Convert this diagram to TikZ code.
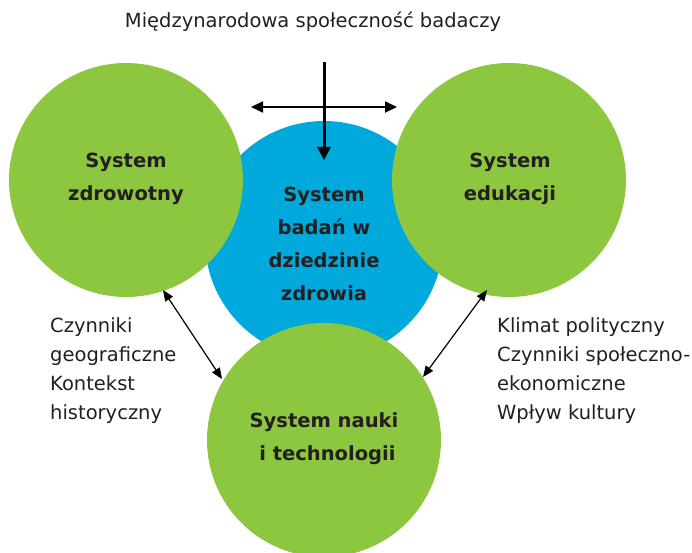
\documentclass[tikz,border=0pt]{standalone}
\usepackage{fontspec}
\setmainfont{DejaVu Sans}
\usetikzlibrary{arrows.meta}
\definecolor{cgreen}{RGB}{141,198,63}
\definecolor{cblue}{RGB}{0,169,219}
\definecolor{ctext}{RGB}{35,31,32}
\begin{document}
\begin{tikzpicture}[x=1pt,y=-1pt,
  circ/.style={circle,inner sep=0pt,minimum size=234pt},
  gcirc/.style={circ,fill=cgreen},
  bcirc/.style={circ,fill=cblue,minimum size=238pt},
  lbl/.style={font=\fontsize{19.5}{33}\selectfont\bfseries,text=ctext,align=center},
  side/.style={font=\fontsize{19.5}{29}\selectfont,text=ctext,anchor=base west,inner sep=0pt},
  dbl/.style={{Triangle[width=9pt,length=11pt]}-{Triangle[width=9pt,length=11pt]},line width=1.2pt,black}
]
\useasboundingbox (0,0) rectangle (692,553);
\node[bcirc] (blue) at (324,240) {};
\node[gcirc] (left) at (126,180) {};
\node[gcirc] (right) at (509,180) {};
\node[gcirc] (bottom) at (324,440) {};
\node[lbl] at (126,179) {System\\zdrowotny};
\node[lbl] at (510,179) {System\\edukacji};
\node[lbl] at (324,244) {System\\badań w\\dziedzinie\\zdrowia};
\node[lbl] at (324,439) {System nauki\\\ i technologii};
\node[font=\fontsize{19.5}{20}\selectfont,text=ctext] (title) at (313,22) {Międzynarodowa społeczność badaczy};
\node[side] (l1t) at (50,332) {Czynniki};
\node[side] (l2t) at (50,361) {geograficzne};
\node[side] (l3t) at (50,390) {Kontekst};
\node[side] (l4t) at (50,419) {historyczny};
\node[side] (r1t) at (497,332) {Klimat polityczny};
\node[side] (r2t) at (497,361) {Czynniki społeczno-};
\node[side] (r3t) at (497,390) {ekonomiczne};
\node[side] (r4t) at (497,419) {Wpływ kultury};
\coordinate (vtop) at (324,62);
\coordinate (vbot) at (324,160);
\coordinate (hl) at (251,107);
\coordinate (hr) at (397,107);
\draw[{Triangle[width=11pt,length=12pt]}-{Triangle[width=11pt,length=12pt]},line width=1.8pt] (hl) -- (hr);
\draw[-{Triangle[width=13pt,length=13pt]},line width=3pt] (vtop) -- (vbot);
\coordinate (l1) at (163,290);
\coordinate (l2) at (222,379);
\coordinate (r1) at (487,290);
\coordinate (r2) at (423,377);
\draw[dbl] (l1) -- (l2);
\draw[dbl] (r1) -- (r2);
\end{tikzpicture}
\end{document}
